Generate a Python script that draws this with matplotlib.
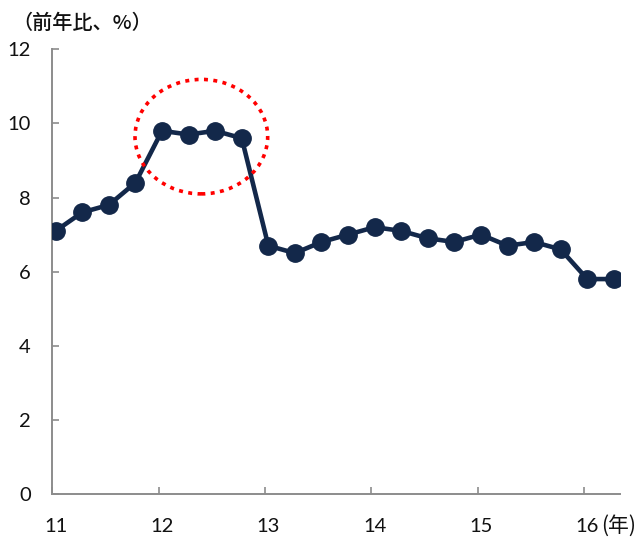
import matplotlib
matplotlib.use("Agg")
import matplotlib.pyplot as plt
from matplotlib.patches import Ellipse
import numpy as np

# Quarterly year-on-year growth (%), 2011 Q1 .. 2016 Q2
values = [7.1, 7.6, 7.8, 8.4,
          9.8, 9.7, 9.8, 9.6,
          6.7, 6.5, 6.8, 7.0,
          7.2, 7.1, 6.9, 6.8,
          7.0, 6.7, 6.8, 6.6,
          5.8, 5.8]
years = [11, 12, 13, 14, 15, 16]
year_labels = ["11", "12", "13", "14", "15", "16"]
y_ticks = [0, 2, 4, 6, 8, 10, 12]
unit_label = "（前年比、%）"
year_unit = "(年)"

plt.rcParams['font.family'] = ['Lato', 'Noto Sans CJK JP', 'DejaVu Sans']

fig = plt.figure(figsize=(6.44, 5.38), dpi=100)
ax = fig.add_axes([52.3 / 644, 44 / 538, (620 - 52.3) / 644, (494 - 49.3) / 538])

offset = 0.032
xpos = 11 + np.arange(len(values)) * 0.25 + offset

navy = "#13284a"
ax.plot(xpos, values, color=navy, lw=3.3, marker="o", markersize=12.5,
        markerfacecolor=navy, markeredgecolor=navy, zorder=3,
        solid_joinstyle="round")

ax.set_xlim(11, 16.34)
ax.set_ylim(0, 12)

# highlight the 2012 period
ell = Ellipse((12.402, 9.643), 1.248, 3.089, fill=False, edgecolor="#ff0000",
              lw=2.6, linestyle=(0, (1.1, 1.5)), zorder=4)
ax.add_patch(ell)

for side in ("top", "right"):
    ax.spines[side].set_visible(False)
for side in ("left", "bottom"):
    ax.spines[side].set_color("#8c8c8c")
    ax.spines[side].set_linewidth(1.4)

ax.set_yticks(y_ticks)
ax.set_yticklabels([str(v) for v in y_ticks], fontsize=14.5, color="#111111")
ax.tick_params(axis="y", direction="in", length=5, width=1.2, color="#8c8c8c", pad=15.5)

# year tick marks on the axis, labels under the first quarter of each year
ax.set_xticks(years)
ax.set_xticklabels([])
ax.tick_params(axis="x", which="major", direction="in", length=5, width=1.2, color="#8c8c8c")
ax.set_xticks([y + offset for y in years], minor=True)
ax.set_xticklabels(year_labels, minor=True, fontsize=14.5, color="#111111")
ax.tick_params(axis="x", which="minor", length=0, pad=17)

fig.text(12 / 644, 1 - 23 / 538, unit_label, fontsize=14.5, va="center", ha="left",
         family=['Noto Sans CJK JP', 'DejaVu Sans'], fontweight="medium", color="#111111")
fig.text(601 / 644, 1 - 526 / 538, year_unit, fontsize=15, va="center", ha="left",
         family=['Noto Sans CJK JP', 'DejaVu Sans'], color="#111111")

fig.savefig("out.png", dpi=100)
